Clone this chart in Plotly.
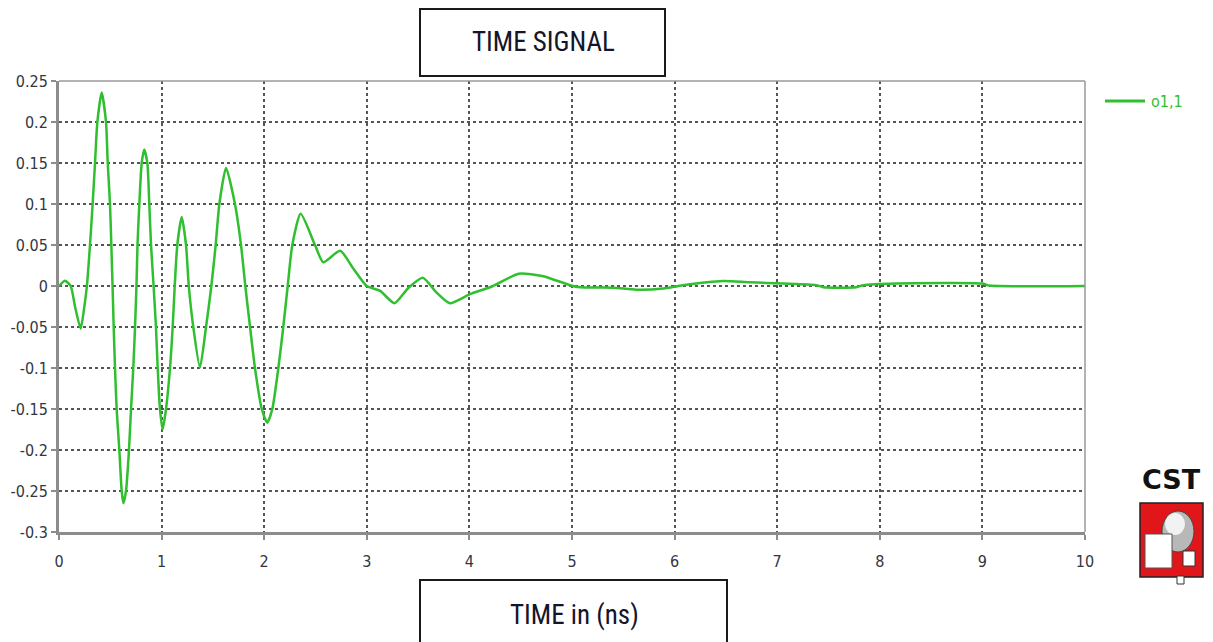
import plotly.graph_objects as go

# ---- data ----
time_ns = [0.0, 0.058, 0.114, 0.156, 0.211, 0.247, 0.272, 0.302, 0.328, 0.351, 0.374, 0.416,
           0.458, 0.475, 0.497, 0.510, 0.522, 0.533, 0.546, 0.562, 0.588, 0.611, 0.627, 0.653,
           0.682, 0.702, 0.724, 0.741, 0.755, 0.765, 0.783, 0.806, 0.831, 0.861, 0.880, 0.897,
           0.922, 0.945, 0.962, 0.984, 1.01, 1.043, 1.082, 1.108, 1.128, 1.153, 1.196, 1.238,
           1.265, 1.309, 1.374, 1.433, 1.485, 1.527, 1.563, 1.628, 1.715, 1.774, 1.816, 1.862,
           1.91, 1.976, 2.03, 2.079, 2.138, 2.186, 2.229, 2.274, 2.355, 2.495, 2.576, 2.74,
           2.87, 3.0, 3.13, 3.27, 3.40, 3.545, 3.68, 3.81, 4.006, 4.23, 4.48, 4.72, 4.98, 5.08,
           5.4, 5.63, 5.89, 6.08, 6.47, 6.73, 7.06, 7.38, 7.45, 7.77, 7.84, 8.16, 9.0, 9.07, 10.0]
signal_o11 = [0.0, 0.0065, 0.0, -0.025, -0.052, -0.025, 0.0, 0.05, 0.1, 0.15, 0.2, 0.236,
              0.2, 0.15, 0.1, 0.05, 0.0, -0.05, -0.1, -0.15, -0.2, -0.25, -0.265, -0.25,
              -0.2, -0.15, -0.1, -0.05, 0.0, 0.05, 0.1, 0.15, 0.1666, 0.15, 0.1, 0.05,
              0.0, -0.05, -0.1, -0.15, -0.175, -0.15, -0.1, -0.05, 0.0, 0.05, 0.084, 0.05,
              0.0, -0.05, -0.0995, -0.05, 0.0, 0.05, 0.1, 0.144, 0.1, 0.05, 0.0, -0.05,
              -0.1, -0.15, -0.1667, -0.15, -0.1, -0.05, 0.0, 0.05, 0.088, 0.05, 0.029, 0.043,
              0.021, 0.0, -0.006, -0.021, -0.003, 0.01, -0.008, -0.021, -0.01, 0.0, 0.015, 0.012,
              0.001, -0.0016, -0.002, -0.0045, -0.003, 0.001, 0.0062, 0.0045, 0.003, 0.001,
              -0.0015, -0.0015, 0.001, 0.003, 0.003, 0.0005, 0.0]
series_name = "o1,1"
x_ticks = [0, 1, 2, 3, 4, 5, 6, 7, 8, 9, 10]
y_tickvals = [0.25, 0.2, 0.15, 0.1, 0.05, 0, -0.05, -0.1, -0.15, -0.2, -0.25, -0.3]
y_ticktext = ["0.25", "0.2", "0.15", "0.1", "0.05", "0", "-0.05", "-0.1", "-0.15", "-0.2", "-0.25", "-0.3"]
title_text = "TIME SIGNAL"
xlabel_text = "TIME in (ns)"

# ---- layout geometry (pixels) ----
W, H = 1213, 642
L, R, T, B = 59, 1085, 81, 532


def px(x):
    return (x - L) / (R - L)


def py(y):
    return (B - y) / (B - T)


GREEN = "#2fbf2f"
TICKFONT = dict(family="DejaVu Sans Condensed, DejaVu Sans", size=16, color="#33363f")
BOXFONT = "Liberation Sans Narrow, Arial Narrow, Roboto Condensed, Liberation Sans"

fig = go.Figure()
fig.add_trace(go.Scatter(x=time_ns, y=signal_o11, mode="lines", name=series_name,
                         showlegend=False,
                         line=dict(color=GREEN, width=2.5, shape="spline", smoothing=0.6)))

shapes = [
    dict(type="line", xref="paper", yref="paper", x0=0, x1=1, y0=1, y1=1,
         line=dict(color="#9a9a9a", width=1.5)),
    dict(type="line", xref="paper", yref="paper", x0=1, x1=1, y0=0, y1=1,
         line=dict(color="#9a9a9a", width=1.5)),
    dict(type="rect", xref="paper", yref="paper", x0=px(420), x1=px(665), y0=py(76), y1=py(9),
         line=dict(color="#1a1a1a", width=2), fillcolor="white"),
    dict(type="rect", xref="paper", yref="paper", x0=px(420), x1=px(727), y0=py(650), y1=py(580),
         line=dict(color="#1a1a1a", width=2), fillcolor="white"),
    # legend line
    dict(type="line", xref="paper", yref="paper", x0=px(1105), x1=px(1145), y0=py(101), y1=py(101),
         line=dict(color=GREEN, width=3)),
    # CST logo
    dict(type="rect", xref="paper", yref="paper", x0=px(1140), x1=px(1203), y0=py(577), y1=py(503),
         line=dict(color="#222", width=1.5), fillcolor="#e0161b"),
    dict(type="circle", xref="paper", yref="paper", x0=px(1162), x1=px(1194), y0=py(552), y1=py(511),
         line=dict(color="#444", width=1), fillcolor="#b8b8b8"),
    dict(type="circle", xref="paper", yref="paper", x0=px(1165), x1=px(1185), y0=py(535), y1=py(513),
         line=dict(width=0), fillcolor="#f2f2f2"),
    dict(type="rect", xref="paper", yref="paper", x0=px(1145), x1=px(1172), y0=py(568), y1=py(534),
         line=dict(color="#555", width=1), fillcolor="white"),
    dict(type="rect", xref="paper", yref="paper", x0=px(1183), x1=px(1195), y0=py(566), y1=py(551),
         line=dict(color="#333", width=1), fillcolor="white"),
    dict(type="rect", xref="paper", yref="paper", x0=px(1177), x1=px(1184), y0=py(584), y1=py(576),
         line=dict(color="#333", width=1), fillcolor="white"),
]

annotations = [
    dict(text=title_text, xref="paper", yref="paper", x=px(543), y=py(42), showarrow=False,
         font=dict(family=BOXFONT, size=27, color="#15152a"), xanchor="center", yanchor="middle"),
    dict(text=xlabel_text, xref="paper", yref="paper", x=px(574), y=py(615), showarrow=False,
         font=dict(family=BOXFONT, size=27, color="#15152a"), xanchor="center", yanchor="middle"),
    dict(text=series_name, xref="paper", yref="paper", x=px(1149), y=py(102), showarrow=False,
         font=dict(family="DejaVu Sans Condensed, DejaVu Sans", size=16, color=GREEN),
         xanchor="left", yanchor="middle"),
    dict(text="<b>CST</b>", xref="paper", yref="paper", x=px(1171), y=py(479), showarrow=False,
         font=dict(family="DejaVu Sans, Liberation Sans", size=27, color="#111"),
         xanchor="center", yanchor="middle"),
]

fig.update_layout(
    width=W, height=H,
    margin=dict(l=L, r=W - R, t=T, b=H - B),
    paper_bgcolor="white", plot_bgcolor="white",
    shapes=shapes, annotations=annotations,
    showlegend=False,
    xaxis=dict(range=[0, 10], tickvals=x_ticks, ticktext=[str(v) for v in x_ticks],
               showgrid=True, gridcolor="#555", griddash="dot", gridwidth=1.5,
               showline=True, linecolor="#8c8c8c", linewidth=3,
               ticks="outside", ticklen=5, tickcolor="#8c8c8c", tickwidth=2,
               ticklabelstandoff=8,
               tickfont=TICKFONT, zeroline=False, fixedrange=True),
    yaxis=dict(range=[-0.3, 0.25], tickvals=y_tickvals, ticktext=y_ticktext,
               showgrid=True, gridcolor="#555", griddash="dot", gridwidth=1.5,
               showline=True, linecolor="#8c8c8c", linewidth=3,
               ticks="outside", ticklen=5, tickcolor="#8c8c8c", tickwidth=2,
               tickfont=TICKFONT, zeroline=False, fixedrange=True),
)

fig.write_html("out.html")
